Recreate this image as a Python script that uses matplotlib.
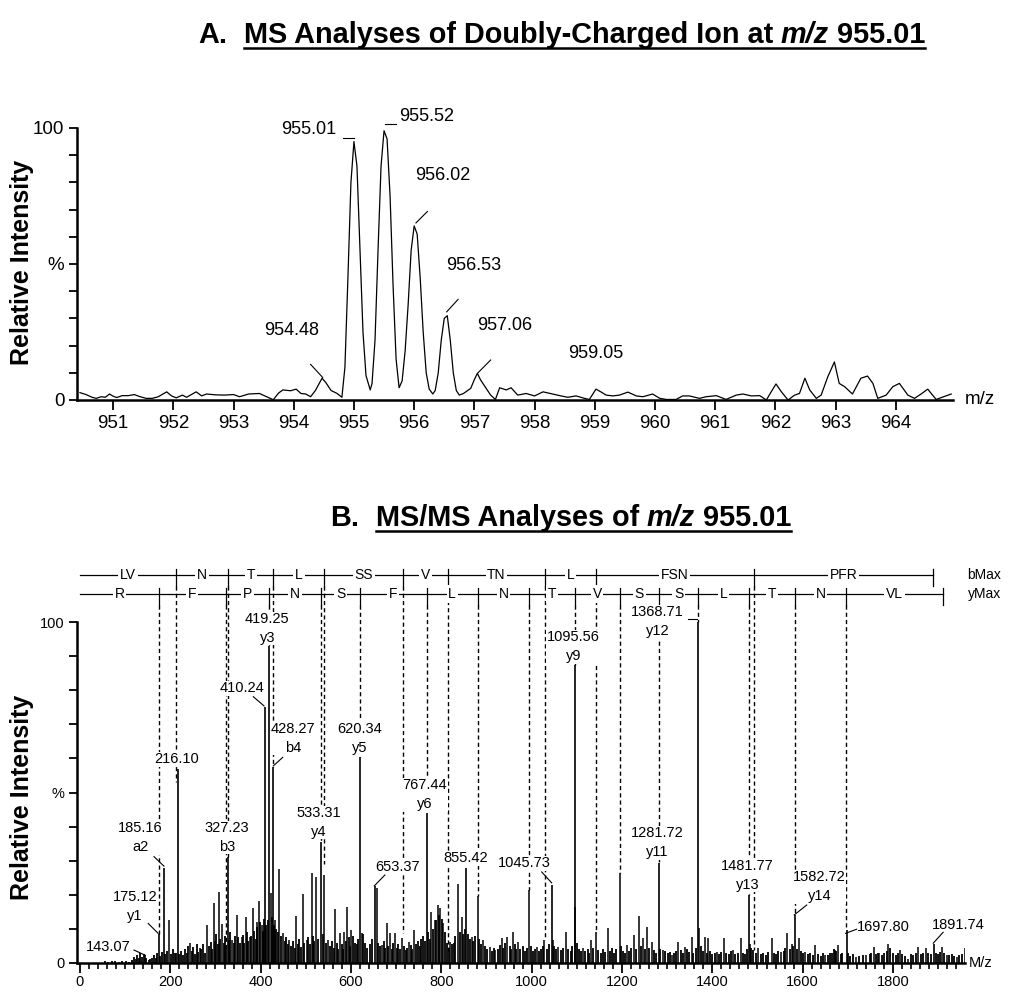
import numpy as np
import matplotlib
matplotlib.use("Agg")
import matplotlib.pyplot as plt
from matplotlib.lines import Line2D
from matplotlib.ticker import FixedLocator

plt.rcParams['font.family'] = ['Liberation Sans', 'DejaVu Sans']

# ---------------- panel A: profile spectrum around m/z 955 ----------------
prof_mz = [950.45, 950.55, 950.65, 950.72, 950.80, 950.87, 950.94, 951.00, 951.06, 951.15,
           951.25, 951.35, 951.45, 951.55, 951.65, 951.75, 951.89, 951.97, 952.05, 952.15,
           952.22, 952.38, 952.47, 952.55, 952.70, 952.85, 953.00, 953.10, 953.25, 953.43,
           953.55, 953.66, 953.75, 953.82, 953.95, 954.04, 954.12, 954.20, 954.28, 954.36,
           954.42, 954.47, 954.53, 954.62, 954.72, 954.80, 954.85, 954.90, 954.95, 955.00,
           955.05, 955.10, 955.15, 955.20, 955.27, 955.30, 955.35, 955.40, 955.45, 955.50,
           955.55, 955.60, 955.65, 955.70, 955.75, 955.80, 955.85, 955.90, 955.95, 956.00,
           956.05, 956.10, 956.15, 956.20, 956.25, 956.31, 956.35, 956.40, 956.45, 956.50,
           956.55, 956.60, 956.65, 956.70, 956.75, 956.82, 956.94, 957.00, 957.05, 957.10,
           957.16, 957.27, 957.35, 957.42, 957.53, 957.61, 957.72, 957.86, 958.00, 958.14,
           958.30, 958.44, 958.55, 958.69, 958.83, 958.91, 959.02, 959.10, 959.19, 959.30,
           959.41, 959.55, 959.69, 959.80, 959.96, 960.08, 960.19, 960.35, 960.46, 960.57,
           960.74, 960.85, 961.02, 961.18, 961.35, 961.46, 961.60, 961.74, 961.85, 961.93,
           962.01, 962.10, 962.21, 962.32, 962.40, 962.49, 962.57, 962.68, 962.76, 962.87,
           962.98, 963.06, 963.15, 963.28, 963.42, 963.53, 963.62, 963.70, 963.84, 963.95,
           964.06, 964.20, 964.31, 964.42, 964.53, 964.67, 964.83, 964.92]
prof_int = [2.7, 2.0, 1.0, 0.6, 1.2, 1.0, 2.2, 1.4, 0.9, 1.6,
            1.6, 2.0, 1.2, 0.6, 0.6, 1.2, 3.0, 1.5, 0.8, 1.8,
            1.0, 3.0, 1.5, 2.2, 1.9, 1.8, 2.0, 1.2, 2.2, 2.4,
            1.2, 0.1, 2.6, 3.7, 3.4, 4.0, 2.4, 2.2, 1.2, 3.5,
            6.0, 8.0, 6.5, 3.5, 2.4, 1.0, 12.0, 45.0, 80.0, 95.0,
            86.0, 56.0, 25.0, 9.0, 3.7, 6.0, 22.0, 55.0, 86.0, 99.0,
            96.0, 75.0, 42.0, 15.0, 4.5, 7.0, 18.0, 35.0, 55.0, 64.0,
            61.0, 45.0, 25.0, 10.0, 4.0, 2.2, 3.5, 10.0, 22.0, 30.0,
            31.0, 22.0, 10.0, 3.5, 1.8, 2.4, 4.3, 7.5, 9.8, 7.5,
            5.5, 1.8, 0.2, 4.5, 3.7, 4.5, 1.8, 2.4, 1.5, 3.0,
            2.2, 1.5, 1.0, 1.5, 0.6, 0.2, 4.0, 3.0, 1.8, 1.5,
            1.8, 2.9, 1.5, 1.2, 2.2, 0.6, 0.2, 0.2, 1.5, 1.5,
            0.6, 1.2, 1.6, 0.2, 1.8, 2.2, 1.5, 1.6, 0.0, 3.0,
            5.9, 3.0, 0.0, 1.8, 2.4, 8.0, 3.7, 0.6, 1.8, 8.5,
            14.0, 6.1, 4.9, 2.2, 8.0, 8.8, 6.1, 0.6, 1.8, 4.9,
            6.1, 1.8, 0.6, 2.2, 4.0, 0.2, 1.5, 2.2]

a_labels = ["954.48", "955.01", "955.52", "956.02", "956.53", "957.06", "959.05"]
a_label_x = [953.97, 954.25, 956.21, 956.48, 956.99, 957.505, 959.02]
a_label_y = [25.7, 99.3, 104.4, 82.7, 49.6, 27.3, 17.2]
a_leaders = [(954.48, 8.3, 954.28, 13.1), (954.82, 96.4, 955.00, 96.4),
             (955.52, 101.5, 955.70, 101.5), (956.03, 65.1, 956.22, 69.3),
             (956.54, 32.4, 956.73, 37.0), (957.06, 10.0, 957.27, 14.7)]

# ---------------- panel B: MS/MS centroid spectrum ----------------
lab_mz = [143.07, 175.12, 185.16, 216.10, 327.23, 410.24, 419.25, 428.27, 533.31, 620.34,
          653.37, 767.44, 855.42, 1045.73, 1095.56, 1281.72, 1368.71, 1481.77, 1582.72,
          1697.80, 1891.74]
lab_int = [2.3, 8.5, 28.0, 57.0, 31.0, 75.0, 93.0, 57.5, 35.5, 60.4,
           22.5, 44.0, 28.0, 23.0, 87.5, 29.3, 100.0, 20.0, 14.0, 9.7, 5.6]
lab_ion = ["", "y1", "a2", "", "b3", "", "y3", "b4", "y4", "y5",
           "", "y6", "", "", "y9", "y11", "y12", "y13", "y14", "", ""]
lab_x = [62.7, 121.8, 134.4, 214.1, 324.8, 358.0, 414.7, 472.3, 527.6, 618.4,
         704.0, 763.8, 854.6, 983.0, 1092.2, 1279.0, 1279.0, 1478.3, 1636.8, 1778.5, 1944.6]
lab_y = [4.8, 16.6, 36.7, 59.7, 36.8, 80.6, 98.1, 65.9, 41.2, 65.9,
         28.2, 49.3, 30.7, 29.2, 92.7, 35.2, 100.1, 25.7, 22.4, 10.6, 11.1]
b_leaders = [(144, 2.3, 119.6, 3.8), (173, 8.7, 151, 11.6), (186, 28.4, 163.8, 31.2),
             (407.4, 75.4, 383.7, 78.1), (428, 57.8, 448.8, 60.3), (651.5, 22.6, 675, 25.8),
             (1044.3, 23.5, 1022.2, 26.7), (1346.7, 100.8, 1365.3, 100.8),
             (1581.4, 14.1, 1609, 17.0), (1695, 8.7, 1719.5, 9.9), (1889, 5.8, 1911, 9.0)]

mid_mz = [197.8, 243.5, 266, 280.5, 296, 308.5, 315, 336, 347, 358, 367, 376.4, 382.3, 391,
          396.3, 402, 422, 432, 441.4, 450, 463.5, 478, 493, 502, 513, 522, 541, 550, 565,
          575, 585, 592, 601, 623.5, 657.6, 668, 679, 686, 697, 713.5, 729, 740, 778, 786,
          793, 798, 804, 819, 837, 845, 867, 880.5, 893, 908, 919, 933.5, 944.6, 958, 970,
          994.6, 1011, 1028, 1048, 1059, 1076, 1096.6, 1114, 1131, 1142.7, 1168, 1194.6,
          1210, 1226, 1238, 1247, 1255, 1266, 1291, 1310, 1325, 1339, 1354, 1371, 1383,
          1391, 1410, 1426.5, 1446, 1463, 1483, 1502, 1531, 1553, 1566, 1576, 1592, 1605,
          1628, 1649, 1672, 1678, 1719, 1741, 1757, 1770, 1790, 1815, 1833, 1856, 1873,
          1908, 1919, 1941, 1959]
mid_int = [12.6, 5.8, 4.4, 11.1, 17.5, 20.9, 11.4, 6.7, 14.1, 7.7, 13.4, 7.7, 16.2, 11.9,
           18.2, 11.1, 20.4, 12.6, 27.5, 8.7, 6.7, 13.8, 20.3, 6.7, 26.3, 25.1, 25.8, 6.7, 15.7,
           8.7, 9.2, 16.5, 9.7, 8.7, 21.9, 5.3, 11.7, 8.7, 8.7, 7.3, 6.3, 9.7, 15.0, 12.6,
           17.0, 16.0, 11.6, 6.3, 23.1, 13.6, 7.7, 19.6, 6.7, 4.8, 3.8, 7.3, 7.7, 9.2, 6.3,
           21.4, 4.8, 6.7, 6.7, 4.8, 9.2, 16.5, 4.3, 6.7, 9.2, 10.2, 26.4,
           5.2, 8.2, 13.8, 7.2, 10.7, 6.2, 3.8, 2.3, 6.3, 4.8, 7.7, 10.2, 7.7,
           7.2, 3.3, 7.2, 3.8, 7.2, 5.7, 4.3, 7.2, 3.3, 8.7, 5.7, 7.2, 3.3,
           5.3, 2.3, 3.8, 5.3, 1.8, 2.3, 4.8, 2.8, 5.7, 3.8, 1.3, 4.8, 4.3,
           4.8, 2.3, 1.8, 4.3]

grass_mz = [55, 62, 70, 78, 86, 93, 101, 108, 115, 119, 123, 127, 130, 133, 137, 141, 147, 152,
            156, 160, 164, 168, 171, 178, 181, 189, 193, 201, 205, 210, 213, 220, 224, 228, 232,
            236, 240, 247, 250, 255, 259, 262, 268, 272, 276, 285, 289, 292, 299, 302, 305, 311,
            318, 321, 324, 330, 333, 340, 343, 350, 354, 361, 364, 370, 373, 379, 386, 389, 393,
            399, 405, 408, 412, 416, 425, 429, 435, 438, 446, 453, 457, 460, 467, 471, 475, 482,
            486, 490, 497, 505, 509, 516, 519, 527, 537, 545, 553, 558, 562, 569, 572, 579, 582,
            588, 595, 598, 605, 609, 613, 616, 626, 631, 636, 641, 646, 660, 664, 672, 676, 683,
            690, 693, 701, 705, 709, 717, 721, 725, 733, 736, 744, 748, 752, 756, 760, 764, 771,
            774, 782, 789, 795, 801, 808, 812, 816, 823, 827, 831, 841, 849, 852, 860, 864, 871,
            875, 884, 888, 897, 901, 912, 916, 925, 929, 937, 941, 951, 955, 963, 966, 975, 980,
            985, 990, 998, 1003, 1008, 1016, 1021, 1025, 1033, 1038, 1050, 1054, 1064, 1069,
            1081, 1086, 1090, 1100, 1104, 1109, 1119, 1124, 1128, 1136, 1147, 1153, 1158, 1162,
            1173, 1178, 1183, 1187, 1198, 1203, 1207, 1216, 1220, 1231, 1242, 1251, 1260, 1271,
            1276, 1285, 1296, 1301, 1306, 1315, 1320, 1330, 1335, 1344, 1349, 1358, 1363, 1375,
            1379, 1388, 1395, 1400, 1405, 1415, 1420, 1431, 1437, 1441, 1451, 1456, 1468, 1473,
            1477, 1486, 1491, 1496, 1507, 1513, 1518, 1523, 1536, 1541, 1546, 1558, 1561, 1571,
            1578, 1587, 1597, 1601, 1612, 1617, 1622, 1634, 1640, 1645, 1655, 1660, 1665, 1670,
            1674, 1684, 1688, 1700, 1705, 1712, 1725, 1733, 1748, 1752, 1762, 1766, 1775, 1781,
            1786, 1794, 1799, 1806, 1811, 1820, 1826, 1839, 1845, 1851, 1861, 1866, 1878, 1884,
            1895, 1899, 1904, 1913, 1924, 1930, 1936, 1947, 1953]
grass_int = [0.6, 0.4, 0.5, 0.6, 0.4, 0.6, 0.5, 0.4, 0.9, 1.8, 1.2, 2.4, 1.5, 2.8, 1.8, 2.6, 1.5, 1.0,
             1.2, 1.6, 2.2, 1.5, 2.8, 2.0, 3.2, 2.5, 3.5, 2.5, 4.0, 2.8, 3.0, 2.5, 3.6, 2.2, 4.2,
             3.0, 5.0, 3.6, 4.8, 2.6, 5.5, 3.2, 4.2, 5.6, 3.0, 5.0, 6.2, 4.0, 6.5, 8.5, 5.5, 7.0,
             6.0, 8.0, 5.0, 6.8, 9.0, 6.0, 8.0, 7.5, 5.8, 8.2, 6.0, 9.0, 6.5, 8.0, 9.5, 7.0, 10.5,
             12.0, 9.5, 13.0, 11.0, 12.5, 13.5, 11.0, 10.0, 9.0, 8.0, 6.5, 7.5, 5.5, 5.0, 6.5, 4.5, 5.5,
             7.0, 4.8, 6.0, 7.5, 5.5, 8.0, 6.5, 7.0, 8.5, 6.0, 5.0, 6.5, 4.5, 6.0, 4.2, 5.5, 4.0,
             6.5, 7.5, 5.0, 8.0, 6.0, 5.5, 7.0, 8.5, 6.0, 4.5, 5.5, 7.0, 6.0, 5.0, 6.5, 4.5, 5.0,
             4.0, 6.0, 4.5, 5.5, 4.0, 5.0, 3.8, 4.5, 5.2, 4.0, 5.5, 6.5, 5.0, 7.0, 8.0, 6.5, 9.0,
             7.0, 10.0, 12.5, 14.0, 13.0, 9.0, 6.0, 4.5, 5.5, 6.0, 8.0, 9.0, 8.5, 10.0, 8.5, 7.0, 6.5,
             8.0, 7.0, 5.5, 5.0, 4.0, 3.5, 4.5, 4.0, 5.2, 4.5, 6.0, 5.0, 4.0, 5.5, 4.0, 4.0, 5.0,
             3.5, 4.5, 5.0, 3.5, 4.0, 3.5, 4.2, 5.0, 4.0, 5.5, 5.0, 4.0, 3.8, 4.5,
             4.0, 3.5, 5.0, 6.0, 4.0, 3.5, 3.5, 4.2, 3.0, 4.5, 3.8, 3.0, 4.0, 3.2,
             3.5, 4.5, 3.0, 4.0, 5.0, 3.5, 3.0, 3.5, 4.5, 4.0, 5.0, 4.2, 4.5, 3.8,
             3.0, 4.0, 3.5, 2.8, 3.2, 2.8, 3.5, 3.8, 3.0, 4.0, 3.2, 3.0, 4.5, 5.0,
             3.5, 3.0, 3.5, 2.5, 3.0, 2.5, 3.2, 2.8, 2.5, 3.5, 2.5, 3.0, 3.0, 2.5,
             4.0, 4.5, 3.8, 3.0, 2.5, 3.0, 2.2, 3.2, 3.0, 2.5, 3.5, 3.5, 4.5, 4.0,
             5.0, 4.0, 3.5, 2.8, 2.5, 3.0, 2.2, 2.5, 2.0, 2.8, 2.2, 2.8, 3.0, 4.0,
             3.5, 2.5, 3.0, 3.0, 2.0, 2.5, 2.0, 2.2, 2.5, 3.0, 2.5, 3.0, 2.2, 2.8,
             3.5, 4.5, 3.0, 2.2, 2.8, 2.5, 2.0, 2.5, 2.2, 3.0, 2.5, 3.0, 2.8, 2.5,
             3.0, 2.5, 3.2, 2.8, 2.2, 2.5, 2.0, 2.2, 2.5]

# fragment ladders (sequence coverage)
b_ions = [213.16, 327.20, 428.27, 541.35, 715.40, 814.50, 1029.60, 1142.70, 1491.80]
b_end = 1889
b_res = ["LV", "N", "T", "L", "SS", "V", "TN", "L", "FSN", "PFR"]
b_drop = [53.0, 31.0, 57.5, 29.0, 8.8, 2.3, 6.7, 8.8, 3.8]
y_ions = [175.12, 322.20, 419.25, 533.31, 620.34, 767.44, 880.50, 994.60, 1095.56,
          1194.60, 1281.72, 1368.71, 1481.77, 1582.72, 1696.80]
y_end = 1910
y_res = ["R", "F", "P", "N", "S", "F", "L", "N", "T", "V", "S", "S", "L", "T", "N", "VL"]
y_drop = [8.5, 4.4, 93.0, 35.5, 60.4, 44.0, 19.6, 21.4, 87.5, 26.4, 29.3, 100.0, 20.0, 14.0, 9.7]

W, H = 1011, 1002
fig = plt.figure(figsize=(W / 100, H / 100), dpi=100)


def style_axes(ax, size):
    for s in ("top", "right"):
        ax.spines[s].set_visible(False)
    ax.spines["left"].set_bounds(0, 100)
    ax.spines["left"].set_linewidth(1.8)
    ax.spines["bottom"].set_linewidth(1.8)
    ax.set_yticks([0, 50, 100])
    ax.set_yticklabels(["0", "%", "100"])
    ax.yaxis.set_minor_locator(FixedLocator([10, 20, 30, 40, 60, 70, 80, 90]))
    ax.tick_params(axis="y", which="both", direction="out", length=6, width=1.3,
                   labelsize=size, pad=3)


# ---- panel A ----
axA = fig.add_axes([77 / W, 1 - 400 / H, 876 / W, 300 / H])
axA.plot(prof_mz, prof_int, color="black", lw=0.9)
axA.set_xlim(950.40, 964.95)
axA.set_ylim(0, 300 / 2.72)
style_axes(axA, 13.5)
axA.set_xticks(range(951, 965))
axA.tick_params(axis="x", direction="out", length=7, width=1.3, labelsize=13.5, pad=4)
axA.text(965.15, 0, "m/z", fontsize=13.5, va="center", ha="left", clip_on=False)
for s, x, y in zip(a_labels, a_label_x, a_label_y):
    axA.text(x, y, s, fontsize=13, ha="center", va="center")
for x1, y1, x2, y2 in a_leaders:
    axA.plot([x1, x2], [y1, y2], color="black", lw=0.8)

# ---- panel B ----
I_B, I_Y = 113.8, 108.2
axB = fig.add_axes([77 / W, 39 / H, 888 / W, 403 / H])
axB.set_xlim(-6.6, 1959.4)
axB.set_ylim(0, 403 / 3.41)
style_axes(axB, 10.5)
axB.set_xticks(range(0, 2000, 200))
axB.xaxis.set_minor_locator(FixedLocator([m for m in range(0, 1960, 20) if m % 200]))
axB.tick_params(axis="x", which="major", direction="out", length=7, width=1.3,
                labelsize=10.5, pad=2)
axB.tick_params(axis="x", which="minor", direction="out", length=4, width=1.2)
axB.text(1968, 0, "M/z", fontsize=10.5, va="center", ha="left", clip_on=False)

# dashed fragment lines
for m, d in zip(b_ions, b_drop):
    axB.plot([m, m], [I_B - 3.2, d], color="black", lw=1.0, ls=(0, (3, 2.2)), zorder=1)
for m, d in zip(y_ions, y_drop):
    axB.plot([m, m], [I_Y - 3.2, d], color="black", lw=1.0, ls=(0, (3, 2.2)), zorder=1)

# peaks
axB.vlines(grass_mz, 0, grass_int, color="black", lw=1.3, zorder=2)
axB.vlines(mid_mz, 0, mid_int, color="black", lw=1.1, zorder=2)
axB.vlines(lab_mz, 0, lab_int, color="black", lw=1.2, zorder=2)

# ladders
for row_y, ions, end, res, tag in ((I_B, b_ions, b_end, b_res, "bMax"),
                                   (I_Y, y_ions, y_end, y_res, "yMax")):
    axB.plot([0, end], [row_y, row_y], color="black", lw=0.9, clip_on=False)
    for m in ions + [end]:
        axB.plot([m, m], [row_y - 3.2, row_y + 1.8], color="black", lw=0.9, clip_on=False)
    bounds = [0] + ions + [end]
    for r, lo, hi in zip(res, bounds[:-1], bounds[1:]):
        axB.text((lo + hi) / 2, row_y, r, fontsize=10, ha="center", va="center",
                 bbox=dict(facecolor="white", edgecolor="none", pad=1.2), zorder=3,
                 clip_on=False)
    axB.text(2040, row_y, tag, fontsize=10, ha="right", va="center", clip_on=False)

# peak labels
for m, ion, x, y in zip(lab_mz, lab_ion, lab_x, lab_y):
    s = f"{m:.2f}" + (f"\n{ion}" if ion else "")
    axB.text(x, y, s, fontsize=10.5, ha="center", va="center", linespacing=1.45,
             bbox=dict(facecolor="white", edgecolor="none", pad=0.3), zorder=4)
for x1, y1, x2, y2 in b_leaders:
    axB.plot([x1, x2], [y1, y2], color="black", lw=0.8, zorder=5)

# y labels
for yc in (262, 797):
    fig.text(22 / W, 1 - yc / H, "Relative Intensity", rotation=90, fontsize=18,
             fontweight="bold", ha="center", va="center")

# underlined titles
renderer = fig.canvas.get_renderer()


def title(center_px, base_px, parts, size):
    probe = fig.text(0, 0, "M M", fontsize=size, fontweight="bold")
    w2 = probe.get_window_extent(renderer).width
    probe.set_text("MM")
    space = w2 - probe.get_window_extent(renderer).width
    probe.remove()
    items, x = [], 0.0
    for s, style, gap in parts:
        t = fig.text(0, 1 - base_px / H, s, fontsize=size, fontweight="bold",
                     fontstyle=style, va="baseline", ha="left")
        w = t.get_window_extent(renderer).width
        items.append((t, x, w))
        x += w + gap * space
    total = x
    x0 = center_px - total / 2
    for t, off, w in items:
        t.set_x((x0 + off) / W)
    ul0 = x0 + items[1][1]
    ul1 = x0 + items[-1][1] + items[-1][2]
    yl = 1 - (base_px + 5) / H
    fig.add_artist(Line2D([ul0 / W, ul1 / W], [yl, yl], color="black", lw=1.8,
                          transform=fig.transFigure))


title(562, 43, [("A.", "normal", 2), ("MS Analyses of Doubly-Charged Ion at", "normal", 1),
                ("m/z", "italic", 1), ("955.01", "normal", 0)], 20.8)
title(561, 526, [("B.", "normal", 2), ("MS/MS Analyses of", "normal", 1),
                 ("m/z", "italic", 1), ("955.01", "normal", 0)], 20.8)

fig.savefig("out.png", dpi=100)
